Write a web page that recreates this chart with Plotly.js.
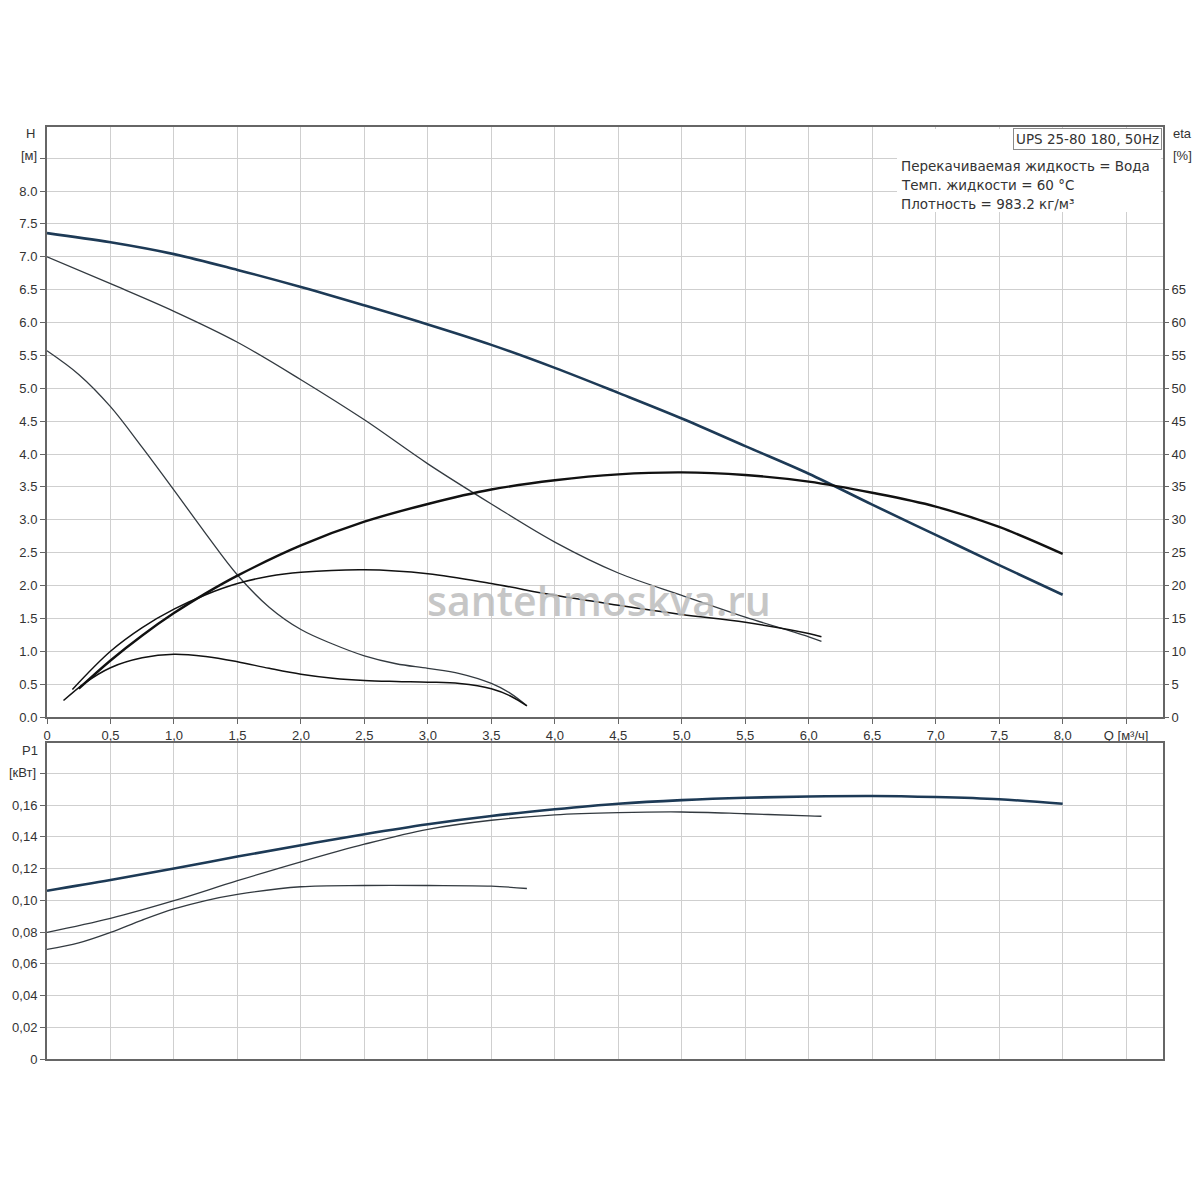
<!DOCTYPE html>
<html>
<head>
<meta charset="utf-8">
<script src="https://cdn.plot.ly/plotly-3.0.1.min.js"></script>
<style>html,body{margin:0;padding:0;background:#fff;}#chart{width:1200px;height:1200px;}</style>
</head>
<body>
<div id="chart"></div>
<script>
// ---- Data ----
// Head curves H [m] vs Q [m3/h]
const qHmax = [0, 0.5, 1.0, 1.5, 2.0, 2.5, 3.0, 3.5, 4.0, 4.5, 5.0, 5.5, 6.0, 6.5, 7.0, 7.5, 8.0];
const hMax  = [7.36, 7.22, 7.04, 6.80, 6.54, 6.26, 5.97, 5.66, 5.31, 4.93, 4.54, 4.12, 3.70, 3.23, 2.77, 2.31, 1.86];

const qH2 = [0, 0.5, 1.0, 1.5, 2.0, 2.5, 3.0, 3.5, 4.0, 4.5, 5.0, 5.5, 6.0, 6.1];
const h2  = [7.00, 6.59, 6.17, 5.70, 5.13, 4.52, 3.85, 3.24, 2.66, 2.19, 1.85, 1.52, 1.22, 1.15];

const qH1 = [0, 0.25, 0.5, 0.75, 1.0, 1.25, 1.5, 1.75, 2.0, 2.25, 2.5, 2.75, 3.0, 3.25, 3.5, 3.65, 3.78];
const h1  = [5.57, 5.21, 4.72, 4.10, 3.45, 2.79, 2.16, 1.67, 1.33, 1.11, 0.93, 0.81, 0.74, 0.66, 0.51, 0.36, 0.17];

// Efficiency curves eta [%]
const qEtaMax = [0.25, 0.5, 0.75, 1.0, 1.25, 1.5, 2.0, 2.5, 3.0, 3.5, 4.0, 4.5, 5.0, 5.5, 6.0, 6.5, 7.0, 7.5, 8.0];
const etaMax  = [4.3, 8.6, 12.4, 15.8, 18.8, 21.5, 26.1, 29.7, 32.4, 34.6, 36.0, 36.9, 37.2, 36.8, 35.8, 34.1, 32.0, 28.9, 24.8];

const qEta2 = [0.2, 0.5, 0.75, 1.0, 1.25, 1.5, 1.75, 2.0, 2.5, 3.0, 3.5, 4.0, 4.5, 5.0, 5.5, 6.0, 6.1];
const eta2  = [4.2, 10.0, 13.6, 16.4, 18.6, 20.3, 21.4, 22.0, 22.4, 21.8, 20.3, 18.5, 17.0, 15.6, 14.4, 12.7, 12.2];

const qEta1 = [0.13, 0.3, 0.5, 0.75, 1.0, 1.25, 1.5, 1.75, 2.0, 2.25, 2.5, 2.75, 3.0, 3.25, 3.5, 3.65, 3.78];
const eta1  = [2.5, 5.2, 7.5, 9.0, 9.55, 9.2, 8.4, 7.4, 6.5, 5.9, 5.55, 5.4, 5.3, 5.1, 4.3, 3.2, 1.7];

// Power curves P1 [kW]
const qPmax = [0, 0.5, 1.0, 1.5, 2.0, 2.5, 3.0, 3.5, 4.0, 4.5, 5.0, 5.5, 6.0, 6.5, 7.0, 7.5, 8.0];
const pMax  = [0.1060, 0.1127, 0.1200, 0.1275, 0.1347, 0.1416, 0.1479, 0.1531, 0.1573, 0.1608, 0.1631, 0.1646, 0.1654, 0.1657, 0.1650, 0.1636, 0.1608];

const qP2 = [0, 0.5, 1.0, 1.5, 2.0, 2.5, 3.0, 3.5, 4.0, 4.5, 5.0, 5.5, 6.0, 6.1];
const p2  = [0.0798, 0.0886, 0.0997, 0.1123, 0.1242, 0.1353, 0.1447, 0.1504, 0.1538, 0.1552, 0.1556, 0.1545, 0.1531, 0.1529];

const qP1 = [0, 0.25, 0.5, 0.75, 1.0, 1.25, 1.5, 2.0, 2.5, 3.0, 3.5, 3.78];
const p1  = [0.0690, 0.0731, 0.0797, 0.0875, 0.0945, 0.0998, 0.1037, 0.1085, 0.1093, 0.1093, 0.1089, 0.1074];

// Tick labels
const qTickVals  = [0, 0.5, 1.0, 1.5, 2.0, 2.5, 3.0, 3.5, 4.0, 4.5, 5.0, 5.5, 6.0, 6.5, 7.0, 7.5, 8.0, 8.5];
const qTickText  = ['0', '0,5', '1,0', '1,5', '2,0', '2,5', '3,0', '3,5', '4,0', '4,5', '5,0', '5,5', '6,0', '6,5', '7,0', '7,5', '8,0', 'Q [м³/ч]'];
const hTickVals  = [0, 0.5, 1.0, 1.5, 2.0, 2.5, 3.0, 3.5, 4.0, 4.5, 5.0, 5.5, 6.0, 6.5, 7.0, 7.5, 8.0, 8.5];
const hTickText  = ['0.0', '0.5', '1.0', '1.5', '2.0', '2.5', '3.0', '3.5', '4.0', '4.5', '5.0', '5.5', '6.0', '6.5', '7.0', '7.5', '8.0', ''];
const etaTickVals = [0, 5, 10, 15, 20, 25, 30, 35, 40, 45, 50, 55, 60, 65];
const etaTickText = ['0', '5', '10', '15', '20', '25', '30', '35', '40', '45', '50', '55', '60', '65'];
const pTickVals  = [0, 0.02, 0.04, 0.06, 0.08, 0.10, 0.12, 0.14, 0.16, 0.18];
const pTickText  = ['0', '0,02', '0,04', '0,06', '0,08', '0,10', '0,12', '0,14', '0,16', ''];

// ---- Styling / layout ----
const W = 1200, H = 1200;
const mL = 47, mR = 37, mT = 127, mB = 141;
const plotW = W - mL - mR, plotH = H - mT - mB;
const px = v => (v - mL) / plotW;           // pixel x -> paper x
const py = v => (H - mB - v) / plotH;       // pixel y -> paper y

const navy = '#1d3a56';
const dark = '#111111';
const thin = '#333a40';
const font = {family: 'Liberation Sans, Arial, sans-serif', size: 13, color: '#333333'};
const infoFont = {family: 'DejaVu Sans, sans-serif', size: 13.5, color: '#333333'};

function line(x, y, color, width, xa, ya) {
  return {x: x, y: y, type: 'scatter', mode: 'lines', xaxis: xa, yaxis: ya,
          line: {color: color, width: width, shape: 'spline', smoothing: 1},
          hoverinfo: 'skip', showlegend: false};
}

const data = [
  line(qHmax, hMax, navy, 2.6, 'x', 'y'),
  line(qH2, h2, thin, 1.3, 'x', 'y'),
  line(qH1, h1, thin, 1.3, 'x', 'y'),
  line(qEtaMax, etaMax, dark, 2.4, 'x', 'y2'),
  line(qEta2, eta2, dark, 1.5, 'x', 'y2'),
  line(qEta1, eta1, dark, 1.5, 'x', 'y2'),
  line(qPmax, pMax, navy, 2.6, 'x2', 'y3'),
  line(qP2, p2, thin, 1.3, 'x2', 'y3'),
  line(qP1, p1, thin, 1.3, 'x2', 'y3')
];

const gridColor = '#cfcfcf';
const axisLine = '#666666';
const xRange = [0, (1163 - 47.5) / 126.9];
const hTop = (717 - 127) / 65.75;

const layout = {
  width: W, height: H,
  margin: {l: mL, r: mR, t: mT, b: mB, pad: 0},
  paper_bgcolor: '#ffffff', plot_bgcolor: '#ffffff',
  font: font,
  showlegend: false,
  xaxis: {
    domain: [0, 1], anchor: 'y', range: xRange,
    tickmode: 'array', tickvals: qTickVals, ticktext: qTickText,
    ticks: 'outside', ticklen: 5, tickcolor: axisLine, tickfont: font,
    showgrid: true, gridcolor: gridColor, gridwidth: 1, zeroline: false,
    showline: true, linecolor: axisLine, linewidth: 2, mirror: true
  },
  xaxis2: {
    domain: [0, 1], anchor: 'y3', range: xRange, matches: 'x',
    tickmode: 'array', tickvals: qTickVals, showticklabels: false, ticks: '',
    showgrid: true, gridcolor: gridColor, gridwidth: 1, zeroline: false,
    showline: true, linecolor: axisLine, linewidth: 2, mirror: true
  },
  yaxis: {
    domain: [(1059 - 717) / 932, 1], anchor: 'x', range: [0, hTop],
    tickmode: 'array', tickvals: hTickVals, ticktext: hTickText,
    ticks: 'outside', ticklen: 5, tickcolor: axisLine, tickfont: font,
    showgrid: true, gridcolor: gridColor, gridwidth: 1, zeroline: false,
    showline: true, linecolor: axisLine, linewidth: 2, mirror: true
  },
  yaxis2: {
    overlaying: 'y', side: 'right', anchor: 'x', range: [0, hTop * 10],
    tickmode: 'array', tickvals: etaTickVals, ticktext: etaTickText,
    ticks: 'outside', ticklen: 5, tickcolor: axisLine, tickfont: font,
    showgrid: false, zeroline: false, showline: false
  },
  yaxis3: {
    domain: [0, (1059 - 743) / 932], anchor: 'x2', range: [0, (1059 - 743) / 1587.5],
    tickmode: 'array', tickvals: pTickVals, ticktext: pTickText,
    ticks: 'outside', ticklen: 5, tickcolor: axisLine, tickfont: font,
    showgrid: true, gridcolor: gridColor, gridwidth: 1, zeroline: false,
    showline: true, linecolor: axisLine, linewidth: 2, mirror: true
  },
  shapes: [
    {type: 'rect', xref: 'paper', yref: 'paper', layer: 'above',
     x0: px(897), x1: px(1161), y0: py(212), y1: py(129),
     fillcolor: '#ffffff', line: {width: 0}}
  ],
  annotations: [
    {text: 'H', xref: 'paper', yref: 'paper', x: px(30), y: py(133), showarrow: false, xanchor: 'center', yanchor: 'middle', font: font},
    {text: '[м]', xref: 'paper', yref: 'paper', x: px(29), y: py(155), showarrow: false, xanchor: 'center', yanchor: 'middle', font: font},
    {text: 'eta', xref: 'paper', yref: 'paper', x: px(1182), y: py(133), showarrow: false, xanchor: 'center', yanchor: 'middle', font: font},
    {text: '[%]', xref: 'paper', yref: 'paper', x: px(1182), y: py(155), showarrow: false, xanchor: 'center', yanchor: 'middle', font: font},
    {text: 'P1', xref: 'paper', yref: 'paper', x: px(30), y: py(750), showarrow: false, xanchor: 'center', yanchor: 'middle', font: font},
    {text: '[кВт]', xref: 'paper', yref: 'paper', x: px(23), y: py(772), showarrow: false, xanchor: 'center', yanchor: 'middle', font: font},
    {text: 'UPS 25-80 180, 50Hz', xref: 'paper', yref: 'paper', x: px(1162), y: py(128), showarrow: false,
     xanchor: 'right', yanchor: 'top', font: infoFont, bgcolor: '#ffffff', bordercolor: '#8a8a8a', borderwidth: 1, borderpad: 2},
    {text: 'Перекачиваемая жидкость = Вода', xref: 'paper', yref: 'paper', x: px(899), y: py(166), showarrow: false, xanchor: 'left', yanchor: 'middle', font: infoFont},
    {text: 'Темп. жидкости = 60 °C', xref: 'paper', yref: 'paper', x: px(899), y: py(185), showarrow: false, xanchor: 'left', yanchor: 'middle', font: infoFont},
    {text: 'Плотность = 983.2 кг/м³', xref: 'paper', yref: 'paper', x: px(899), y: py(204), showarrow: false, xanchor: 'left', yanchor: 'middle', font: infoFont},
    {text: 'santehmoskva.ru', xref: 'paper', yref: 'paper', x: px(599), y: py(600), showarrow: false, xanchor: 'center', yanchor: 'middle',
     opacity: 0.85, font: {family: 'Open Sans, sans-serif', size: 41, weight: 600, color: '#bdbdbd'}}
  ]
};

Plotly.newPlot('chart', data, layout, {displayModeBar: false, staticPlot: true});
</script>
</body>
</html>
